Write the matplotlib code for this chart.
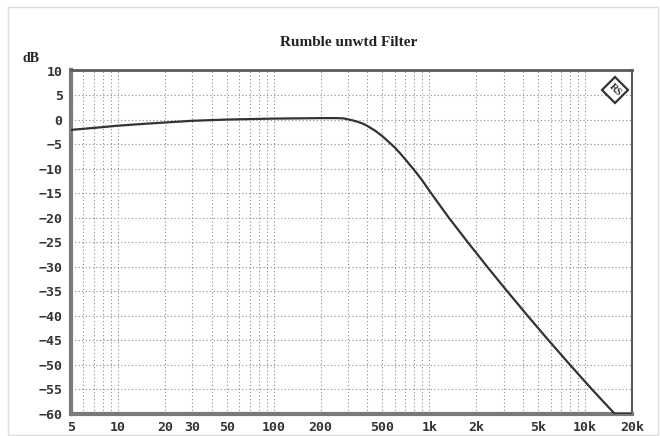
import matplotlib
matplotlib.use("Agg")
import matplotlib.pyplot as plt
from matplotlib.ticker import FixedLocator, FixedFormatter, LogLocator, NullFormatter
from matplotlib.patches import Rectangle, Polygon

# Data
freq_hz = [5, 7, 10, 15, 20, 30, 50, 70, 100, 150, 200, 250, 280, 300, 325, 350,
           375, 400, 450, 500, 550, 600, 650, 700, 800, 900, 1015, 1333, 1765,
           2353, 3162, 4280, 5830, 8010, 11080, 15530, 20000]
gain_db = [-2.1, -1.7, -1.25, -0.85, -0.6, -0.25, 0.0, 0.1, 0.2, 0.25, 0.3, 0.3, 0.25,
           0.05, -0.2, -0.5, -0.85, -1.3, -2.3, -3.4, -4.6, -5.7, -6.9, -8.1, -10.3,
           -12.4, -14.8, -20.0, -25.0, -30.0, -35.0, -40.0, -45.0, -50.0, -55.0,
           -60.0, -60.0]

x_ticks = [5, 10, 20, 30, 50, 100, 200, 500, 1000, 2000, 5000, 10000, 20000]
x_tick_labels = ["5", "10", "20", "30", "50", "100", "200", "500", "1k", "2k", "5k", "10k", "20k"]
y_ticks = list(range(-60, 11, 5))
y_tick_labels = [str(v).replace("-", "\u2212") for v in y_ticks]

title = "Rumble unwtd Filter"
y_unit = "dB"

W, H = 660, 436
fig = plt.figure(figsize=(6.6, 4.36), dpi=100)
fig.patch.set_facecolor("white")

# Outer light border
fig.add_artist(Rectangle((8 / W, 1 / H), 650 / W, 428 / H,
                         transform=fig.transFigure, fill=False,
                         edgecolor="#dddddd", lw=1.0))

ax = fig.add_axes([71 / W, 1 - 414 / H, 561 / W, 343.5 / H])
ax.set_xscale("log")
ax.set_xlim(5, 20000)
ax.set_ylim(-60, 10)

ax.plot(freq_hz, gain_db, color="#333333", lw=1.6, zorder=3, clip_on=True)

ax.xaxis.set_major_locator(FixedLocator(x_ticks))
ax.xaxis.set_major_formatter(FixedFormatter(x_tick_labels))
ax.xaxis.set_minor_locator(LogLocator(base=10, subs=range(1, 10), numticks=20))
ax.xaxis.set_minor_formatter(NullFormatter())
ax.set_yticks(y_ticks)
ax.set_yticklabels(y_tick_labels)

grid_kw = dict(color="#8c8c8c", linestyle=(0, (1, 2.2)), lw=0.8)
ax.grid(True, which="major", axis="both", **grid_kw)
ax.grid(True, which="minor", axis="x", **grid_kw)
ax.set_axisbelow(True)

ax.tick_params(which="both", length=0)
ax.tick_params(axis="y", pad=6)
ax.tick_params(axis="x", pad=5)
for lbl in ax.get_xticklabels() + ax.get_yticklabels():
    lbl.set_fontfamily("DejaVu Sans Mono")
    lbl.set_fontweight("bold")
    lbl.set_fontsize(9.5)
    lbl.set_color("#333333")

ax.spines["left"].set_linewidth(3)
ax.spines["left"].set_color("#7a7a7a")
ax.spines["bottom"].set_linewidth(3)
ax.spines["bottom"].set_color("#7a7a7a")
ax.spines["top"].set_linewidth(2)
ax.spines["top"].set_color("#5a5a5a")
ax.spines["right"].set_linewidth(1.5)
ax.spines["right"].set_color("#5a5a5a")

fig.text(349 / W, 1 - 42 / H, title, ha="center", va="center",
         fontfamily="Liberation Serif", fontweight="bold", fontsize=11, color="#222222")
fig.text(31 / W, 1 - 58 / H, y_unit, ha="center", va="center",
         fontfamily="Liberation Serif", fontweight="bold", fontsize=10, color="#222222")

# R&S-like logo: diamond with letters
cx, cy, r = 615, 90, 13
diamond = Polygon([((cx) / W, 1 - (cy - r) / H), ((cx + r) / W, 1 - cy / H),
                   ((cx) / W, 1 - (cy + r) / H), ((cx - r) / W, 1 - cy / H)],
                  closed=True, transform=fig.transFigure, facecolor="white",
                  edgecolor="#333333", lw=1.6, zorder=5)
fig.add_artist(diamond)
fig.text(cx / W, 1 - cy / H, "RS", ha="center", va="center", rotation=-45,
         fontfamily="Liberation Serif", fontweight="bold", fontsize=7.5,
         color="#333333", zorder=6)

fig.savefig("out.png", dpi=100, facecolor="white")
